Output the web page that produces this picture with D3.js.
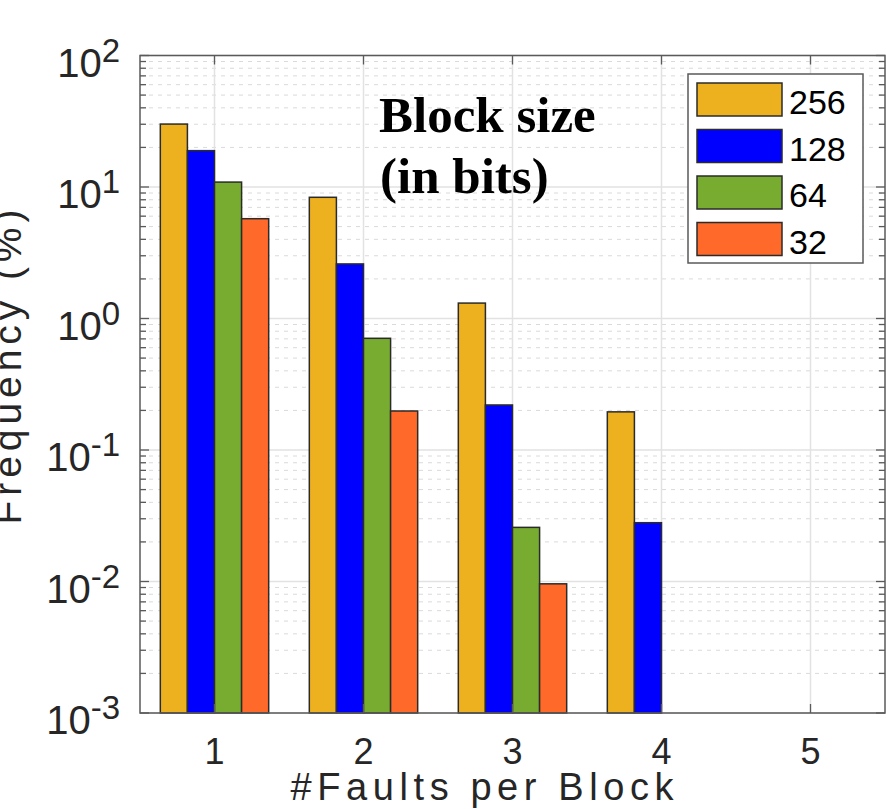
<!DOCTYPE html>
<html>
    <head>
        <meta charset="utf-8" />
        <style>
            body{ margin: 0; background: #fff; }
            svg{ display: block; }
            text{ font-family: "Liberation Sans", Arial, sans-serif; fill: #262626; }
        </style>
    </head>
    <body>
        <svg id="chart" width="886" height="809"></svg>
        <script src="https://cdnjs.cloudflare.com/ajax/libs/d3/7.8.5/d3.min.js"></script>
        <script>
            // data (frequency in %), null = no bar
            var faults = [1, 2, 3, 4, 5];
            var blockSizes = ['256', '128', '64', '32'];
            var freq256 = [30.1, 8.35, 1.31, 0.195, null];
            var freq128 = [18.9, 2.60, 0.22, 0.028, null];
            var freq64  = [10.9, 0.707, 0.0258, null, null];
            var freq32  = [5.74, 0.198, 0.0096, null, null];
            var yTickExps = [2, 1, 0, -1, -2, -3];

            (function(){
                var series = [freq256, freq128, freq64, freq32];
                var colors = ['#EDB120', '#0000FF', '#77AC30', '#FF6929'];

                var plotLeft = 140, plotRight = 885, plotTop = 55.5, plotBottom = 713;

                var svg = d3.select('#chart');

                var x = d3.scaleLinear().domain([0.5, 5.5]).range([plotLeft, plotRight]);
                var y = d3.scaleLog().domain([1e-3, 1e2]).range([plotBottom, plotTop]);

                // bars inside a group, in data units (matlab style group width)
                var groupWidth = 4 / 5.5;
                var inner = d3.scaleBand().domain(blockSizes)
                    .range([-groupWidth / 2, groupWidth / 2]).paddingInner(0);

                // minor values 2..9 in each decade
                var minors = [];
                yTickExps.slice(0, -1).forEach(function(e){
                    for(var k = 2; k <= 9; k++){ minors.push(k * Math.pow(10, e - 1)); }
                });
                var majors = yTickExps.map(function(e){ return Math.pow(10, e); });

                var grid = svg.append('g');
                grid.selectAll('.minor-grid').data(minors).enter().append('line')
                    .attr('x1', plotLeft).attr('x2', plotRight)
                    .attr('y1', function(d){ return y(d); })
                    .attr('y2', function(d){ return y(d); })
                    .attr('stroke', '#dadada').attr('stroke-width', 1)
                    .attr('stroke-dasharray', '4,5');
                grid.selectAll('.major-grid').data(majors).enter().append('line')
                    .attr('x1', plotLeft).attr('x2', plotRight)
                    .attr('y1', function(d){ return y(d); })
                    .attr('y2', function(d){ return y(d); })
                    .attr('stroke', '#e2e2e2').attr('stroke-width', 1.5);
                grid.selectAll('.x-grid').data(faults).enter().append('line')
                    .attr('x1', function(d){ return x(d); })
                    .attr('x2', function(d){ return x(d); })
                    .attr('y1', plotTop).attr('y2', plotBottom)
                    .attr('stroke', '#e2e2e2').attr('stroke-width', 1.5);

                // bars
                series.forEach(function(vals, si){
                    var data = vals.map(function(v, i){ return { f: faults[i], v: v }; })
                        .filter(function(d){ return d.v !== null; });
                    svg.append('g').selectAll('rect').data(data).enter().append('rect')
                        .attr('x', function(d){ return x(d.f + inner(blockSizes[si])); })
                        .attr('width', function(d){ return x(d.f + inner.bandwidth()) - x(d.f); })
                        .attr('y', function(d){ return y(d.v); })
                        .attr('height', function(d){ return plotBottom - y(d.v); })
                        .attr('fill', colors[si])
                        .attr('stroke', '#2b2b2b').attr('stroke-width', 1.5);
                });

                // frame and ticks
                var axisColor = '#5a5a5a';
                svg.append('rect')
                    .attr('x', plotLeft).attr('y', plotTop)
                    .attr('width', plotRight - plotLeft).attr('height', plotBottom - plotTop)
                    .attr('fill', 'none').attr('stroke', axisColor).attr('stroke-width', 1.5);

                var ticks = svg.append('g').attr('stroke', axisColor).attr('stroke-width', 1.3);
                [plotLeft, plotRight].forEach(function(edge){
                    var dir = edge === plotLeft ? 1 : -1;
                    ticks.selectAll(null).data(majors).enter().append('line')
                        .attr('x1', edge).attr('x2', edge + dir * 9)
                        .attr('y1', function(d){ return y(d); })
                        .attr('y2', function(d){ return y(d); });
                    ticks.selectAll(null).data(minors).enter().append('line')
                        .attr('x1', edge).attr('x2', edge + dir * 6)
                        .attr('y1', function(d){ return y(d); })
                        .attr('y2', function(d){ return y(d); });
                });
                [plotTop, plotBottom].forEach(function(edge){
                    var dir = edge === plotTop ? 1 : -1;
                    ticks.selectAll(null).data(faults).enter().append('line')
                        .attr('x1', function(d){ return x(d); })
                        .attr('x2', function(d){ return x(d); })
                        .attr('y1', edge).attr('y2', edge + dir * 9);
                });

                // tick labels
                svg.selectAll('.x-label').data(faults).enter().append('text')
                    .attr('x', function(d){ return x(d); })
                    .attr('y', 764)
                    .attr('text-anchor', 'middle')
                    .style('font-size', '36px')
                    .text(function(d){ return d; });

                var yLabels = svg.selectAll('.y-label').data(yTickExps).enter().append('text')
                    .attr('x', 120)
                    .attr('y', function(d){ return y(Math.pow(10, d)) + 21; })
                    .attr('text-anchor', 'end')
                    .style('font-size', '40px');
                yLabels.append('tspan').text('10');
                yLabels.append('tspan')
                    .attr('dy', -15)
                    .style('font-size', '33px')
                    .text(function(d){ return d; });

                // axis titles
                svg.append('text')
                    .attr('x', 482).attr('y', 800)
                    .attr('text-anchor', 'middle')
                    .attr('textLength', 383).attr('lengthAdjust', 'spacing')
                    .style('font-size', '38px')
                    .text('#Faults per Block');

                svg.append('text')
                    .attr('transform', 'translate(21,367) rotate(-90)')
                    .attr('text-anchor', 'middle')
                    .attr('textLength', 315).attr('lengthAdjust', 'spacing')
                    .style('font-size', '39px')
                    .text('Frequency (%)');

                // annotation
                var note = svg.append('text')
                    .style('font-family', '"Liberation Serif", "Times New Roman", serif')
                    .style('font-weight', 'bold')
                    .style('font-size', '51px')
                    .style('fill', '#000');
                note.append('tspan').attr('x', 379).attr('y', 132).text('Block size');
                note.append('tspan').attr('x', 380).attr('y', 193).text('(in bits)');

                // legend
                var legend = svg.append('g');
                legend.append('rect')
                    .attr('x', 688).attr('y', 74).attr('width', 175).attr('height', 189)
                    .attr('fill', '#fff').attr('stroke', axisColor).attr('stroke-width', 1.5);
                var items = legend.selectAll('.item').data(blockSizes).enter().append('g')
                    .attr('transform', function(d, i){ return 'translate(697,' + (83 + i * 46.5) + ')'; });
                items.append('rect')
                    .attr('width', 85).attr('height', 33)
                    .attr('fill', function(d, i){ return colors[i]; })
                    .attr('stroke', '#2b2b2b').attr('stroke-width', 1.5);
                items.append('text')
                    .attr('x', 92).attr('y', 31)
                    .style('font-size', '34px')
                    .style('fill', '#000')
                    .text(function(d){ return d; });
            })();
        </script>
    </body>
</html>
